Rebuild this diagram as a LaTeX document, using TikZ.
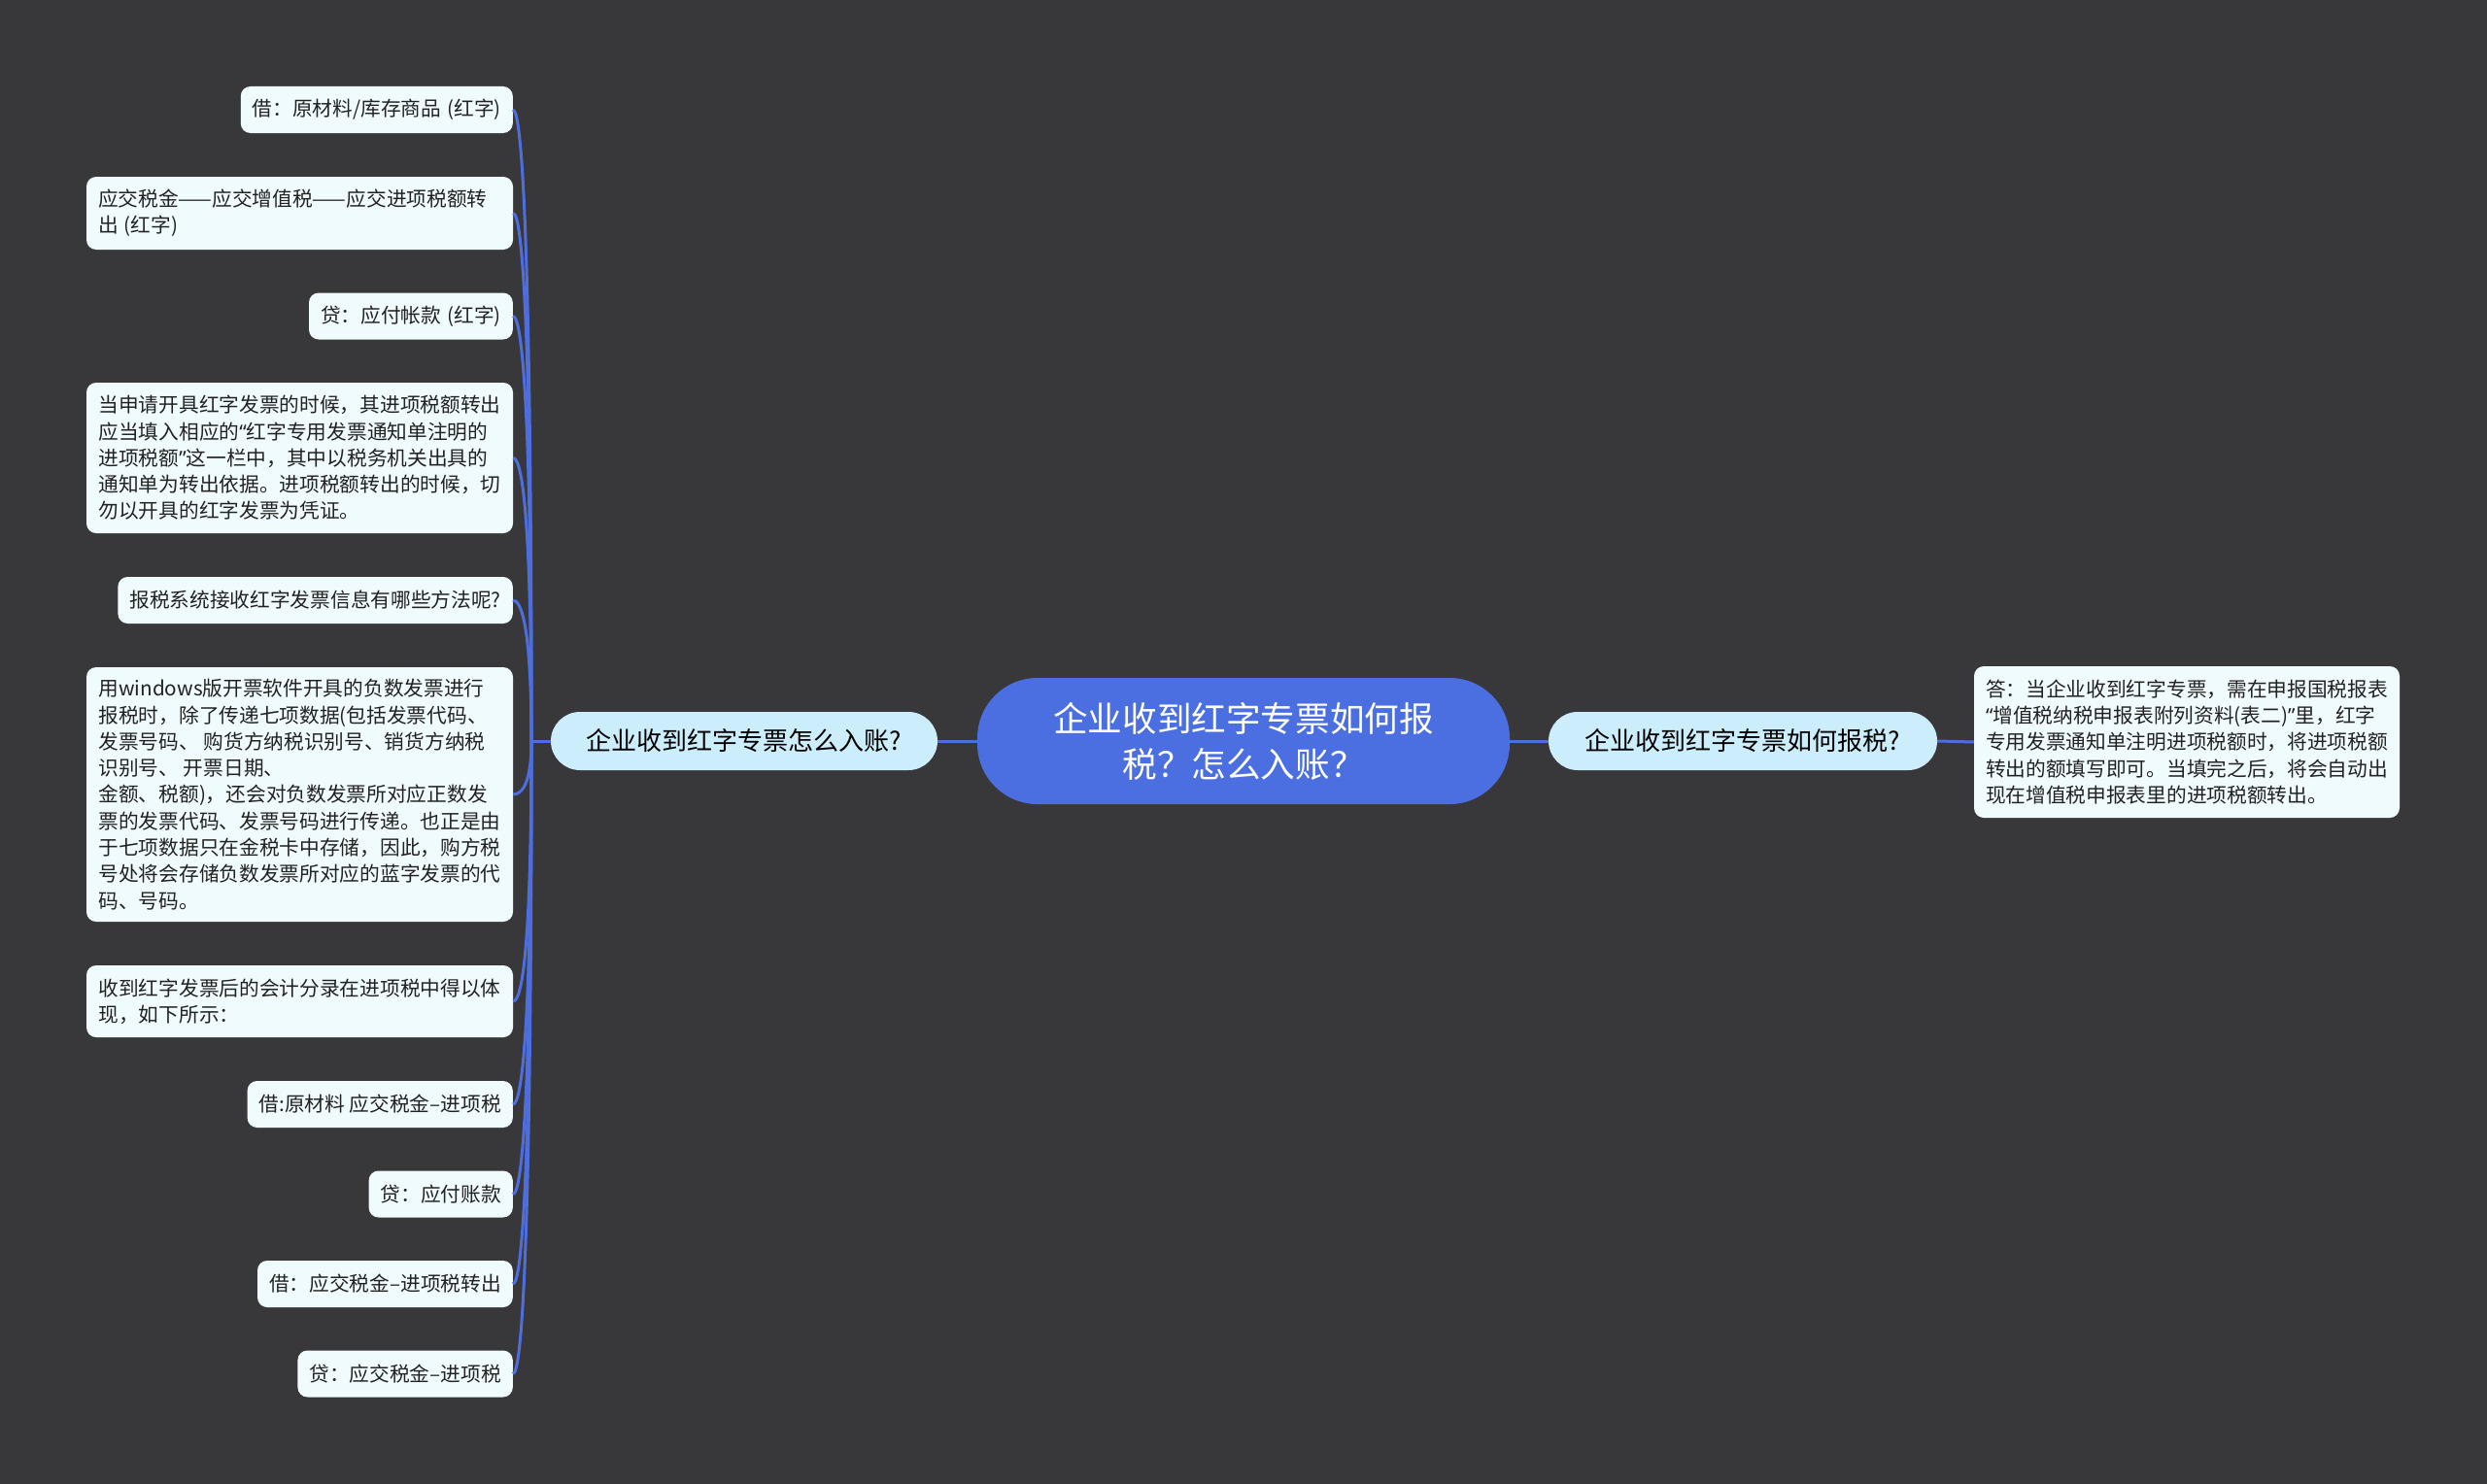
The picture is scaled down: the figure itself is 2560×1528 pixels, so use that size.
\documentclass[tikz,border=0pt]{standalone}
\usepackage{fontspec}
\setmainfont{Noto Sans CJK SC}
\newfontfamily\latinq{Noto Sans}
\newcommand{\myLQ}{{\latinq “}}
\newcommand{\myRQ}{{\latinq ”}}
\newcommand{\hwp}[1]{\hspace{0.3em}(#1)}
\usetikzlibrary{calc}
\definecolor{bg}{RGB}{56,56,58}
\definecolor{mainblue}{RGB}{75,111,224}
\definecolor{linkblue}{RGB}{78,110,222}
\definecolor{branchfill}{RGB}{204,238,252}
\definecolor{leaffill}{RGB}{240,251,254}
\definecolor{leaftext}{RGB}{34,34,34}
\begin{document}
\begin{tikzpicture}[x=1pt,y=-1pt,
  leaf/.style={fill=leaffill, rounded corners=10pt, text=leaftext,
    font=\fontsize{20.7}{27.3}\selectfont, inner xsep=12pt, inner ysep=0pt,
    minimum height=48pt},
  leafs/.style={leaf, anchor=east},
  leafm/.style={leaf, align=left, minimum width=439pt},
  branch/.style={fill=branchfill, rounded corners=30pt, text=black,
    font=\fontsize{26}{32}\selectfont, minimum height=60pt, inner sep=0pt},
  central/.style={fill=mainblue, rounded corners=62pt, text=white,
    font=\fontsize{35.6}{47}\selectfont, align=center, minimum width=548pt,
    minimum height=130pt, inner sep=0pt},
  conn/.style={draw=linkblue, line width=3pt}
]
\fill[bg] (0,0) rectangle (2560,1528);
\useasboundingbox (0,0) rectangle (2560,1528);

% central and branches
\node[central] (c) at (1280,763) {企业收到红字专票如何报\\税？怎么入账？};
\node[branch, minimum width=398pt] (lb) at (766,763) {企业收到红字专票怎么入账?};
\node[branch, minimum width=400pt] (rb) at (1794,763) {企业收到红字专票如何报税?};

% right leaf
\node[leafm, minimum width=438pt, minimum height=156pt] (r1) at (2251,764)
  {答：当企业收到红字专票，需在申报国税报表\\\myLQ 增值税纳税申报表附列资料(表二)\myRQ 里，红字\\专用发票通知单注明进项税额时，将进项税额\\转出的额填写即可。当填完之后，将会自动出\\现在增值税申报表里的进项税额转出。};

% left leaves
\node[leafs] (l1) at (528,113) {借：原材料/库存商品\hwp{红字}};
\node[leafm, text width=415pt, minimum height=75pt] (l2) at (308.5,219.5)
  {应交税金——应交增值税——应交进项税额转\\出\hwp{红字}};
\node[leafs] (l3) at (528,325.5) {贷：应付帐款\hwp{红字}};
\node[leafm, minimum height=155pt] (l4) at (308.5,471.5)
  {当申请开具红字发票的时候，其进项税额转出\\应当填入相应的\myLQ 红字专用发票通知单注明的\\进项税额\myRQ 这一栏中，其中以税务机关出具的\\通知单为转出依据。进项税额转出的时候，切\\勿以开具的红字发票为凭证。};
\node[leafs] (l5) at (528,618) {报税系统接收红字发票信息有哪些方法呢?};
\node[leafm, minimum height=262pt] (l6) at (308.5,818)
  {用windows版开票软件开具的负数发票进行\\报税时，除了传递七项数据(包括发票代码、\\发票号码、 购货方纳税识别号、销货方纳税\\识别号、 开票日期、\\金额、税额)，还会对负数发票所对应正数发\\票的发票代码、发票号码进行传递。也正是由\\于七项数据只在金税卡中存储，因此，购方税\\号处将会存储负数发票所对应的蓝字发票的代\\码、号码。};
\node[leafm, minimum height=74pt] (l7) at (308.5,1031)
  {收到红字发票后的会计分录在进项税中得以体\\现，如下所示：};
\node[leafs] (l8) at (528,1137) {借:原材料 应交税金–进项税};
\node[leafs] (l9) at (528,1229.5) {贷：应付账款};
\node[leafs] (l10) at (528,1322) {借：应交税金–进项税转出};
\node[leafs] (l11) at (528,1414.5) {贷：应交税金–进项税};

% connectors
\coordinate (J) at (547,763);
\draw[conn] (c.west) -- (lb.east);
\draw[conn] (c.east) -- (rb.west);
\draw[conn] (rb.east) -- (r1.west);
\draw[conn] (lb.west) -- (J);
\foreach \n in {l1,l2,l3,l4,l5,l6,l7,l8,l9,l10,l11}{
  \draw[conn] (J) .. controls ($(J|-\n.east)!0.2!(J)$) and ($(\n.east)+(9,0)$) .. (\n.east);
}
\end{tikzpicture}
\end{document}
